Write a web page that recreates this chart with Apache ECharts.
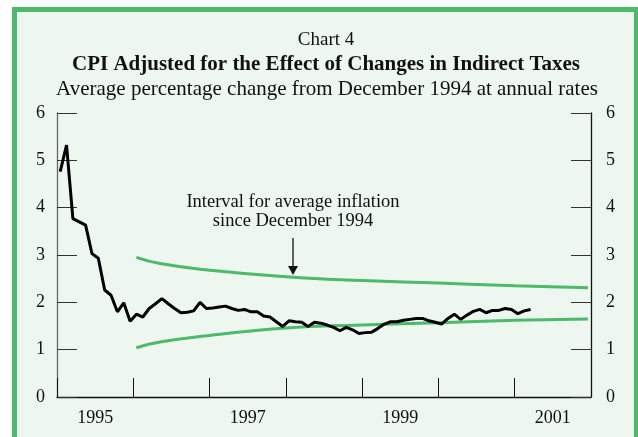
<!DOCTYPE html>
<html>
<head>
<meta charset="utf-8">
<script src="https://cdn.jsdelivr.net/npm/echarts@6/dist/echarts.min.js"></script>
<style>
  html, body { margin: 0; padding: 0; background: #fff; }
  #chart { width: 638px; height: 437px; }
</style>
</head>
<body>
<div id="chart"></div>
<script>
// CPI adjusted for indirect taxes, monthly, Jan 1995 - Mar 2001
var startYear = 1995;
var cpiAdj = [
  4.76, 5.32, 3.77, 3.70, 3.63, 3.03, 2.93, 2.26, 2.15, 1.80, 1.99, 1.60,
  1.75, 1.69, 1.87, 1.97, 2.08, 1.97, 1.87, 1.78, 1.79, 1.82, 2.00, 1.87,
  1.88, 1.90, 1.92, 1.87, 1.83, 1.85, 1.80, 1.80, 1.71, 1.69, 1.59, 1.49,
  1.61, 1.59, 1.58, 1.49, 1.58, 1.56, 1.52, 1.47, 1.40, 1.47, 1.42, 1.34,
  1.36, 1.37, 1.45, 1.54, 1.59, 1.59, 1.62, 1.64, 1.66, 1.66, 1.61, 1.58,
  1.54, 1.66, 1.75, 1.64, 1.73, 1.81, 1.85, 1.78, 1.83, 1.83, 1.87, 1.85,
  1.76, 1.82, 1.85
];

var bandDates = [1996.04, 1996.35, 1997.0, 1998.0, 1999.0, 2000.0, 2001.0, 2001.96];
var bandUpper = [2.95, 2.82, 2.68, 2.54, 2.46, 2.41, 2.35, 2.31];
var bandLower = [1.04, 1.16, 1.30, 1.46, 1.52, 1.57, 1.62, 1.65];

var yTicks = [0, 1, 2, 3, 4, 5, 6];
var yearLabels = ['1995', '1997', '1999', '2001'];

var font = '"Liberation Serif", "DejaVu Serif", serif';
var green = '#4cb96b';

var cpiData = cpiAdj.map(function (v, i) {
  return [startYear + (i + 0.5) / 12, v];
});
var upperData = bandDates.map(function (d, i) { return [d, bandUpper[i]]; });
var lowerData = bandDates.map(function (d, i) { return [d, bandLower[i]]; });

var chart = echarts.init(document.getElementById('chart'));

var option = {
  animation: false,
  backgroundColor: '#fff',
  grid: { left: 57, right: 47, top: 113, bottom: 40 },
  graphic: [
    {
      type: 'rect', z: -10, silent: true,
      shape: { x: 14.5, y: 9.5, width: 622, height: 460 },
      style: { fill: '#edf7f0', stroke: green, lineWidth: 5 }
    },
    {
      type: 'text', x: 326, y: 31,
      style: { text: 'Chart 4', font: '19px ' + font, fill: '#111', align: 'center' }
    },
    {
      type: 'text', x: 326, y: 54,
      style: { text: 'CPI Adjusted for the Effect of Changes in Indirect Taxes', font: 'bold 21px ' + font, fill: '#111', align: 'center' }
    },
    {
      type: 'text', x: 327, y: 79,
      style: { text: 'Average percentage change from December 1994 at annual rates', font: '21px ' + font, fill: '#111', align: 'center' }
    },
    {
      type: 'text', x: 293, y: 193,
      style: {
        text: 'Interval for average inflation\nsince December 1994',
        font: '18.5px ' + font, fill: '#111', align: 'center', lineHeight: 19
      }
    },
    {
      type: 'line',
      shape: { x1: 293, y1: 238, x2: 293, y2: 268 },
      style: { stroke: '#111', lineWidth: 1.3 }
    },
    {
      type: 'polygon',
      shape: { points: [[288, 266], [298, 266], [293, 275]] },
      style: { fill: '#111' }
    }
  ],
  xAxis: [
    {
      type: 'value', min: 1995, max: 2002, interval: 1,
      axisLine: { lineStyle: { color: '#111', width: 1.3 } },
      axisTick: { inside: true, length: 19, lineStyle: { color: '#111', width: 1 } },
      axisLabel: { show: false },
      splitLine: { show: false }
    },
    {
      type: 'value', min: 1995, max: 2002, interval: 0.5, position: 'bottom',
      axisLine: { show: false },
      axisTick: { show: false },
      splitLine: { show: false },
      axisLabel: {
        margin: 12,
        fontFamily: font, fontSize: 18, color: '#111',
        formatter: function (v) {
          var y = String(Math.floor(v));
          return (v % 1 !== 0 && yearLabels.indexOf(y) >= 0) ? y : '';
        }
      }
    }
  ],
  yAxis: [
    {
      type: 'value', min: yTicks[0], max: yTicks[yTicks.length - 1], interval: 1,
      position: 'left',
      axisLine: { show: true, lineStyle: { color: '#666', width: 1.3 } },
      axisTick: { inside: true, length: 20, lineStyle: { color: '#333' } },
      axisLabel: { margin: 12, fontFamily: font, fontSize: 18, color: '#111' },
      splitLine: { show: false }
    },
    {
      type: 'value', min: yTicks[0], max: yTicks[yTicks.length - 1], interval: 1,
      position: 'right',
      axisLine: { show: true, lineStyle: { color: '#111', width: 1.3 } },
      axisTick: { inside: true, length: 20, lineStyle: { color: '#333' } },
      axisLabel: { margin: 15, fontFamily: font, fontSize: 18, color: '#111' },
      splitLine: { show: false }
    }
  ],
  series: [
    {
      name: 'upper', type: 'line', data: upperData, smooth: true,
      showSymbol: false, lineStyle: { color: green, width: 3 }
    },
    {
      name: 'lower', type: 'line', data: lowerData, smooth: true,
      showSymbol: false, lineStyle: { color: green, width: 3 }
    },
    {
      name: 'CPI', type: 'line', data: cpiData,
      showSymbol: false, lineStyle: { color: '#000', width: 3 }, z: 5
    }
  ]
};

chart.setOption(option);
</script>
</body>
</html>
